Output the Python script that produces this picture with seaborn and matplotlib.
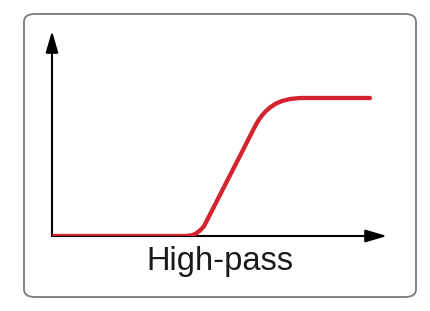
import matplotlib
matplotlib.use("Agg")
import matplotlib.pyplot as plt
import seaborn as sns
import pandas as pd
from matplotlib.patches import FancyBboxPatch

# Response curve (x: frequency units, y: gain units)
freq = [0, 134, 140, 144, 148, 152, 158, 168, 178, 188, 198, 203, 206, 210,
        214, 218, 224, 230, 238, 248, 318]
gain = [0, 0, 0.7, 2.5, 5.5, 9.8, 21.5, 41.1, 60.7, 80.2, 99.8, 109.6, 115,
        120.5, 125, 128.5, 132.5, 135, 137, 138, 138]
label = "High-pass"

sns.set_theme(style="white")
plt.rcParams['font.family'] = ['Liberation Sans', 'DejaVu Sans']

W, H = 430, 311
fig = plt.figure(figsize=(W / 100, H / 100), dpi=100)
fig.patch.set_facecolor("white")

# Rounded frame
box = FancyBboxPatch((24 / W, 1 - 297 / H), (416 - 24) / W, (297 - 14) / H,
                     boxstyle="round,pad=0,rounding_size=0.025",
                     transform=fig.transFigure, facecolor="white",
                     edgecolor="#7a7a7a", linewidth=1.3, zorder=-10)
fig.patches.append(box)

ax = fig.add_axes([52 / W, (H - 236) / H, (387 - 52) / W, (236 - 31) / H])
ax.set_zorder(5)
ax.patch.set_alpha(0)
df = pd.DataFrame({"freq": freq, "gain": gain})
sns.lineplot(data=df, x="freq", y="gain", ax=ax, color="#d3232f",
             linewidth=3.1, solid_capstyle="round", zorder=5, sort=False)
ax.set_xlim(0, 335)
ax.set_ylim(0, 205)
ax.axis("off")

arrow = dict(arrowstyle="-|>,head_length=1.3,head_width=0.38", color="black",
             linewidth=1.5, mutation_scale=10, shrinkA=0, shrinkB=0)
ax.annotate("", xy=(1, 0), xytext=(0, 0), xycoords="axes fraction",
            arrowprops=arrow, zorder=3)
ax.annotate("", xy=(0, 1), xytext=(0, 0), xycoords="axes fraction",
            arrowprops=arrow, zorder=3)

fig.text(220 / W, 1 - 270 / H, label, ha="center", va="baseline",
         fontsize=23.5, color="#1a1a1a")

fig.savefig("out.png", dpi=100)
